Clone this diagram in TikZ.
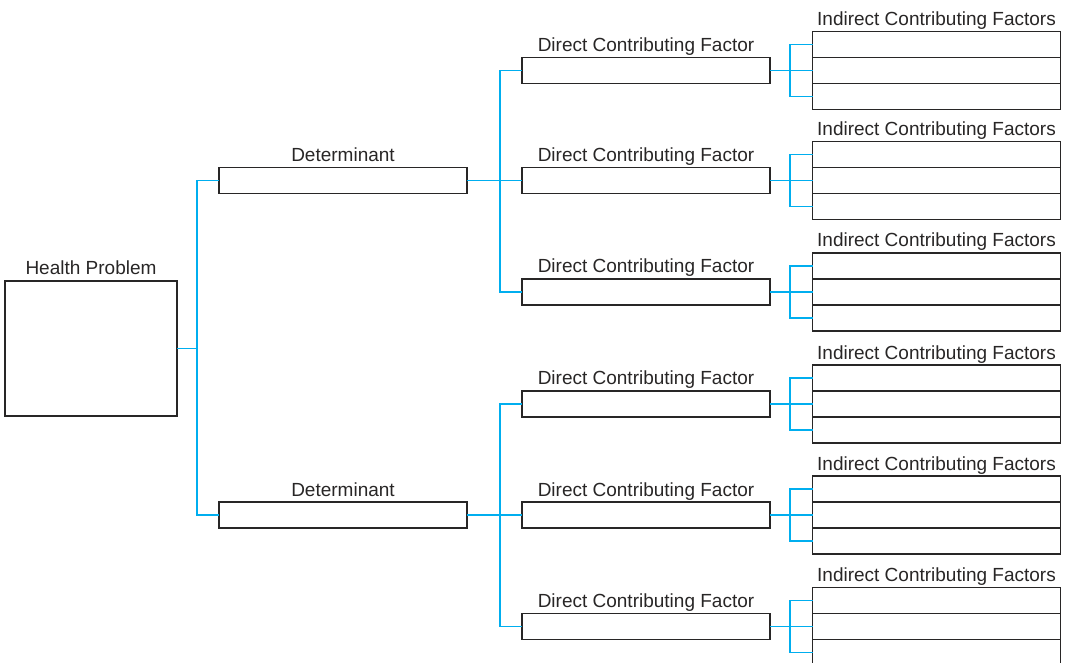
\documentclass[tikz,border=0pt]{standalone}
\usepackage{fontspec}
\setmainfont{Liberation Sans}
\usepackage{tikz}
\usetikzlibrary{positioning}
\definecolor{linkblue}{RGB}{0,174,239}
\definecolor{inkgray}{RGB}{40,38,38}

\begin{document}
\begin{tikzpicture}[x=0.5pt,y=-0.5pt,
  box/.style={draw=inkgray,line width=0.55pt,inner sep=0pt,outer sep=0pt,minimum width=124pt,minimum height=13pt},
  link/.style={draw=linkblue,line width=0.6pt},
  lbl/.style={label={[anchor=base,label distance=3pt,text=inkgray,font=\fontsize{9.5}{11}\selectfont]above:#1}}]
\useasboundingbox (0,0) rectangle (1066,663);
% problem and its determinants
\node[box,minimum width=86pt,minimum height=67.5pt,lbl=Health Problem] (hp) at (91,348.5) {};
\node[box,lbl=Determinant] (det1) at (343,180.5) {};
\node[box,lbl=Determinant] (det2) at (343,515) {};
% direct factors, each with a stack of three indirect ones
\foreach \n/\yy in {1/70.5,2/180.5,3/292,4/404,5/515,6/626.5} {
  \node[box,lbl=Direct Contributing Factor] (dcf\n) at (646,\yy) {};
  \node[box] (ifc\n b) at (936.5,\yy) {};
  \node[box,above=0pt of ifc\n b,lbl=Indirect Contributing Factors] (ifc\n a) {};
  \node[box,below=0pt of ifc\n b] (ifc\n c) {};
  \draw[link] (dcf\n.east) -- (ifc\n b.west);
  \draw[link] (ifc\n a.west) -| ([xshift=10pt]dcf\n.east) |- (ifc\n c.west);
}
% blue links
\draw[link] (hp.east) -- ++(10pt,0);
\draw[link] (det1.west) -| ([xshift=10pt]hp.east) |- (det2.west);
\draw[link] (det1.east) -- (dcf2.west);
\draw[link] (dcf1.west) -| ([xshift=16.5pt]det1.east) |- (dcf3.west);
\draw[link] (det2.east) -- (dcf5.west);
\draw[link] (dcf4.west) -| ([xshift=16.5pt]det2.east) |- (dcf6.west);
\end{tikzpicture}
\end{document}
